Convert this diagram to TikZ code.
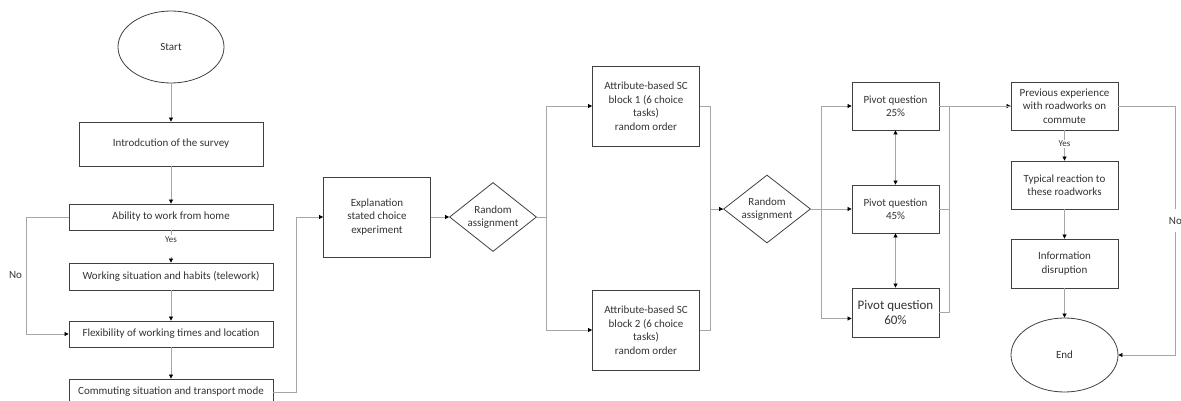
\documentclass[tikz,border=0pt]{standalone}
\usepackage{fontspec}
\setmainfont{Carlito}
\usetikzlibrary{shapes.geometric,arrows.meta}

\begin{document}
\begin{tikzpicture}
[
    x=1pt, y=-1pt,
    every node/.style={font=\fontsize{11}{13.5}\selectfont, text=black!80},
    box/.style={draw=black!75, line width=0.8pt, rectangle, align=center, inner sep=0pt},
    oval/.style={draw=black!75, line width=0.8pt, ellipse, inner sep=0pt},
    choice/.style={draw=black!75, line width=0.8pt, diamond, align=center, inner sep=0pt, aspect=1.26},
    link/.style={draw=black!35, line width=0.7pt},
    arr/.style={link, -{Triangle[length=4pt,width=4pt,color=black]}},
    biarr/.style={link, {Triangle[length=4pt,width=4pt,color=black]}-{Triangle[length=4pt,width=4pt,color=black]}},
    lbl/.style={fill=white, inner sep=1pt, font=\fontsize{9}{10}\selectfont},
]
\useasboundingbox (0,0) rectangle (1181,401);

% survey part
\node [oval, minimum width=106, minimum height=72] (start) at (171,47) {Start};
\node [box, minimum width=184, minimum height=44] (intro) at (171,144) {Introdcution of the survey};
\node [box, minimum width=204, minimum height=26] (ability) at (171,217) {Ability to work from home};
\node [box, minimum width=204, minimum height=27] (working) at (171,276.5) {Working situation and habits (telework)};
\node [box, minimum width=204, minimum height=26] (flex) at (171,334) {Flexibility of working times and location};
\node [box, minimum width=204, minimum height=26] (commute) at (171,392) {Commuting situation and transport mode};

% choice experiment
\node [box, minimum width=107, minimum height=80] (expl) at (377,217) {Explanation\\stated choice\\experiment};
\node [choice, minimum width=87, minimum height=69] (rand1) at (493,217) {Random\\assignment};
\node [box, minimum width=107, minimum height=80] (block1) at (646,106) {Attribute-based SC\\block 1 (6 choice\\tasks)\\random order};
\node [box, minimum width=107, minimum height=80] (block2) at (646,330) {Attribute-based SC\\block 2 (6 choice\\tasks)\\random order};
\node [choice, minimum width=87, minimum height=68] (rand2) at (767,209) {Random\\assignment};
\node [box, minimum width=87, minimum height=48] (piv25) at (895.5,106) {Pivot question\\25\%};
\node [box, minimum width=87, minimum height=48] (piv45) at (895.5,209) {Pivot question\\45\%};
\node [box, minimum width=87, minimum height=49, font=\fontsize{13}{15.5}\selectfont] (piv60) at (895.5,312.5) {Pivot question\\60\%};

% roadworks part
\node [box, minimum width=107, minimum height=48] (prev) at (1064.5,106) {Previous experience\\with roadworks on\\commute};
\node [box, minimum width=107, minimum height=48] (typical) at (1064.5,185) {Typical reaction to\\these roadworks};
\node [box, minimum width=107, minimum height=49] (info) at (1064.5,263.5) {Information\\disruption};
\node [oval, minimum width=107, minimum height=74] (end) at (1064.5,355) {End};

% connectors
\draw [arr] (start) -- (intro);
\draw [arr] (intro) -- (ability);
\draw [arr] (ability) -- node [lbl, pos=0.12, anchor=north, minimum height=22pt, text depth=12pt] {Yes} (working);
\draw [arr] (working) -- (flex);
\draw [arr] (flex) -- (commute);
\draw [arr] (ability.west) -- ++(-42,0) |- node [pos=0.25, left=1pt] {No} (flex.west);
\draw [arr] (commute.east) -- ++(23,0) |- (expl.west);
\draw [arr] (expl) -- (rand1);
\draw [arr] (rand1.east) -- ++(9,0) |- (block1.west);
\draw [arr] (rand1.east) -- ++(9,0) |- (block2.west);
\draw [link] (block1.east) -- ++(10,0) |- (rand2.west);
\draw [arr] (block2.east) -- ++(10,0) |- (rand2.west);
\draw [arr] (rand2.east) -- ++(10,0) |- (piv25.west);
\draw [arr] (rand2.east) -- (piv45.west);
\draw [arr] (rand2.east) -- ++(10,0) |- ([yshift=-6pt]piv60.west);
\draw [biarr] (piv25) -- (piv45);
\draw [biarr] (piv45) -- (piv60);
\draw [arr] (piv25.east) -- (prev.west);
\draw [link] (piv45.east) -- ++(10,0) |- (piv25.east -| prev.west);
\draw [link] (piv60.east) -- ++(10,0) |- (piv25.east -| prev.west);
\draw [arr] (prev) -- node [lbl, pos=0.45] {Yes} (typical);
\draw [arr] (typical) -- (info);
\draw [arr] (info) -- (end);
\draw [arr] (prev.east) -- ++(57,0) |- node [pos=0.23, fill=white, inner xsep=2pt, inner ysep=8pt] {No} (end.east);
\end{tikzpicture}
\end{document}
